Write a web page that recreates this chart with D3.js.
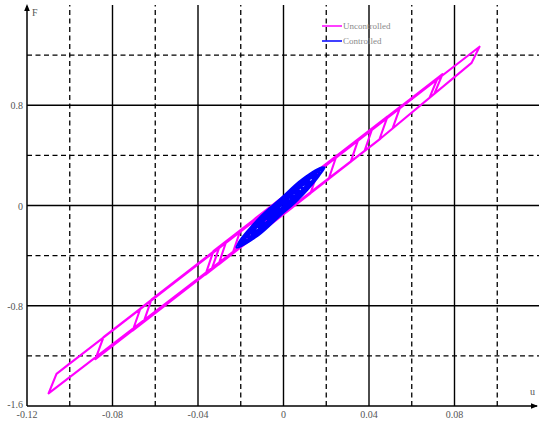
<!DOCTYPE html>
<html><head><meta charset="utf-8">
<script src="https://cdn.jsdelivr.net/npm/d3@7"></script>
<style>html,body{margin:0;padding:0;background:#fff;}svg{display:block;}</style>
</head><body>
<svg id="c" width="539" height="427"></svg>
<script>
// ---- data ----
const xTickVals = [-0.12, -0.08, -0.04, 0, 0.04, 0.08];
const xTickLabels = ["-0.12", "-0.08", "-0.04", "0", "0.04", "0.08"];
const yTickVals = [-1.6, -0.8, 0, 0.8];
const yTickLabels = ["-1.6", "-0.8", "0", "0.8"];
const xMajor = [-0.08, -0.04, 0, 0.04, 0.08];
const xMinor = [-0.10, -0.06, -0.02, 0.02, 0.06, 0.10];
const yMajor = [-0.8, 0, 0.8];
const yMinor = [-1.2, -0.4, 0.4, 1.2];
const seriesNames = ["Uncontrolled", "Controlled"];
const seriesColors = ["#ff00ff", "#0000ff"];

// Uncontrolled trajectory (u, F)
const uncU = [-0.0061, 0.0080, 0.0042, -0.0098, -0.0061, 0.0164, 0.0126, -0.0173, -0.0136, 0.0248, 0.0211, -0.0239, -0.0201,
  0.0351, 0.0314, -0.0304, -0.0267, 0.0416, 0.0379, -0.0337, -0.0299, 0.0487, 0.0449, -0.0365, -0.0328,
  0.0547, 0.0510, 0.0454, -0.0655, -0.0618, 0.0721, 0.0683, 0.0454, -0.0706, -0.0669,
  0.0744, 0.0706, 0.0454, -0.0880, -0.0842, 0.0917, 0.0880, 0.0454, -0.1099, -0.1062, -0.1029,
  0.0917, 0.0880, 0.0454, -0.1099, -0.1062, -0.1029, -0.0997];
const uncF = [-0.0087, 0.1763, -0.0152, -0.2010, -0.0087, 0.2867, 0.0972, -0.2991, -0.1084, 0.3972, 0.2097, -0.3852, -0.1961,
  0.5323, 0.3468, -0.4713, -0.2831, 0.6180, 0.4346, -0.5144, -0.3269, 0.7106, 0.5287, -0.5511, -0.3644,
  0.7903, 0.6140, 0.5342, -0.9319, -0.7512, 1.0176, 0.8596, 0.5342, -0.9993, -0.8198,
  1.0479, 0.8923, 0.5342, -1.2265, -1.0502, 1.2671, 1.1379, 0.5342, -1.4992, -1.3437, -1.2998,
  1.2671, 1.1379, 0.5342, -1.4992, -1.3437, -1.2998, -1.2560];

// Controlled trajectory (u, F), loops of 8 points each
const ctrlU = [
  0.0027, 0.0007, -0.0014, -0.0035, -0.0055, -0.0035, -0.0014, 0.0007,
  0.0073, 0.0029, -0.0014, -0.0057, -0.0101, -0.0057, -0.0014, 0.0029,
  0.0110, 0.0048, -0.0014, -0.0076, -0.0138, -0.0076, -0.0014, 0.0048,
  0.0155, 0.0071, -0.0014, -0.0098, -0.0183, -0.0098, -0.0014, 0.0071,
  0.0192, 0.0089, -0.0014, -0.0117, -0.0220, -0.0117, -0.0014, 0.0089,
  0.0180, 0.0083, -0.0014, -0.0111, -0.0208, -0.0111, -0.0014, 0.0083,
  0.0186, 0.0086, -0.0014, -0.0114, -0.0214, -0.0114, -0.0014, 0.0086,
  0.0161, 0.0074, -0.0014, -0.0102, -0.0189, -0.0102, -0.0014, 0.0074,
  0.0167, 0.0077, -0.0014, -0.0105, -0.0195, -0.0105, -0.0014, 0.0077,
  0.0138, 0.0062, -0.0014, -0.0090, -0.0166, -0.0090, -0.0014, 0.0062,
  0.0122, 0.0054, -0.0014, -0.0082, -0.0150, -0.0082, -0.0014, 0.0054,
  0.0089, 0.0038, -0.0014, -0.0066, -0.0117, -0.0066, -0.0014, 0.0038,
  0.0048, 0.0017, -0.0014, -0.0045, -0.0076, -0.0045, -0.0014, 0.0017, 0.0048];
const ctrlF = [
  0.0478, 0.0279, -0.0040, -0.0359, -0.0798, -0.0599, -0.0280, 0.0039,
  0.1180, 0.0762, 0.0092, -0.0578, -0.1500, -0.1082, -0.0412, 0.0258,
  0.1754, 0.1157, 0.0200, -0.0757, -0.2074, -0.1477, -0.0520, 0.0437,
  0.2456, 0.1640, 0.0332, -0.0976, -0.2776, -0.1960, -0.0652, 0.0656,
  0.3030, 0.2035, 0.0440, -0.1155, -0.3350, -0.2355, -0.0760, 0.0835,
  0.2839, 0.1903, 0.0404, -0.1095, -0.3159, -0.2223, -0.0724, 0.0775,
  0.3034, 0.2069, 0.0522, -0.1025, -0.3154, -0.2189, -0.0642, 0.0905,
  0.2452, 0.1606, 0.0250, -0.1106, -0.2972, -0.2126, -0.0770, 0.0586,
  0.2647, 0.1772, 0.0368, -0.1036, -0.2967, -0.2092, -0.0688, 0.0716,
  0.2201, 0.1464, 0.0284, -0.0896, -0.2521, -0.1784, -0.0604, 0.0576,
  0.1945, 0.1289, 0.0236, -0.0817, -0.2265, -0.1609, -0.0556, 0.0497,
  0.1435, 0.0938, 0.0140, -0.0658, -0.1755, -0.1258, -0.0460, 0.0338,
  0.0797, 0.0499, 0.0020, -0.0459, -0.1117, -0.0819, -0.0340, 0.0139, 0.0797];

// ---- drawing ----
const svg = d3.select("#c");
const x = d3.scaleLinear().domain([-0.12, 0.12]).range([27, 540]);
const y = d3.scaleLinear().domain([-1.6, 1.6]).range([406, 5]);
const [x0, x1] = x.range();
const [y0, y1] = y.range();

const grid = svg.append("g");
grid.selectAll(".vmin").data(xMinor).join("line")
  .attr("x1", d => x(d)).attr("x2", d => x(d)).attr("y1", y0).attr("y2", y1)
  .attr("stroke", "#000").attr("stroke-width", 1.3).attr("stroke-dasharray", "5,3.5");
grid.selectAll(".hmin").data(yMinor).join("line")
  .attr("x1", x0).attr("x2", 539).attr("y1", d => y(d)).attr("y2", d => y(d))
  .attr("stroke", "#000").attr("stroke-width", 1.3).attr("stroke-dasharray", "5,3.5");
grid.selectAll(".vmaj").data(xMajor).join("line")
  .attr("x1", d => x(d)).attr("x2", d => x(d)).attr("y1", y0).attr("y2", y1)
  .attr("stroke", "#000").attr("stroke-width", 1.4);
grid.selectAll(".hmaj").data(yMajor).join("line")
  .attr("x1", x0).attr("x2", 539).attr("y1", d => y(d)).attr("y2", d => y(d))
  .attr("stroke", "#000").attr("stroke-width", 1.4);

// axes lines with arrows
svg.append("line").attr("x1", x0).attr("x2", x0).attr("y1", y0).attr("y2", y1 + 1)
  .attr("stroke", "#000").attr("stroke-width", 1.5);
svg.append("line").attr("x1", x0).attr("x2", x1 - 3).attr("y1", y0).attr("y2", y0)
  .attr("stroke", "#000").attr("stroke-width", 1.5);
svg.append("path").attr("d", `M${x0},${y1 - 1}L${x0 - 2.8},${y1 + 6}L${x0 + 2.8},${y1 + 6}Z`).attr("fill", "#000");
svg.append("path").attr("d", `M${x1 - 2},${y0}L${x1 - 9},${y0 - 2.8}L${x1 - 9},${y0 + 2.8}Z`).attr("fill", "#000");

// tick labels
const lab = svg.append("g").attr("font-family", "Liberation Serif, serif").attr("font-size", 10).attr("fill", "#555");
lab.selectAll(".xt").data(xTickVals).join("text")
  .attr("x", d => x(d)).attr("y", y0 + 12).attr("text-anchor", "middle")
  .text((d, i) => xTickLabels[i]);
lab.selectAll(".yt").data(yTickVals).join("text")
  .attr("x", x0 - 4).attr("y", (d, i) => y(d) + (i === 0 ? 1.5 : 4)).attr("text-anchor", "end")
  .text((d, i) => yTickLabels[i]);
lab.append("text").attr("x", x0 + 5).attr("y", y1 + 11).attr("font-size", 10).text("F");
lab.append("text").attr("x", x1 - 10).attr("y", y0 - 11).attr("font-size", 10).text("u");

// series
const line = d3.line().x(d => x(d[0])).y(d => y(d[1]));
const uncPts = uncU.map((u, i) => [u, uncF[i]]);
const ctrlPts = ctrlU.map((u, i) => [u, ctrlF[i]]);
svg.append("path").attr("d", line(uncPts)).attr("fill", "none")
  .attr("stroke", seriesColors[0]).attr("stroke-width", 2.1).attr("stroke-linejoin", "round");
svg.append("path").attr("d", line.curve(d3.curveCatmullRom.alpha(0.5))(ctrlPts)).attr("fill", "none")
  .attr("stroke", seriesColors[1]).attr("stroke-width", 2.3).attr("stroke-linejoin", "round");

// legend
const lg = svg.append("g");
seriesNames.forEach((n, i) => {
  const ly = 26 + i * 15;
  lg.append("line").attr("x1", 322).attr("x2", 342).attr("y1", ly).attr("y2", ly)
    .attr("stroke", seriesColors[i]).attr("stroke-width", 1.5);
  lg.append("text").attr("x", 343).attr("y", ly + 3).attr("font-family", "Liberation Serif, serif")
    .attr("font-size", 9).attr("fill", "#8a8a8a").text(n);
});
</script>
</body></html>
